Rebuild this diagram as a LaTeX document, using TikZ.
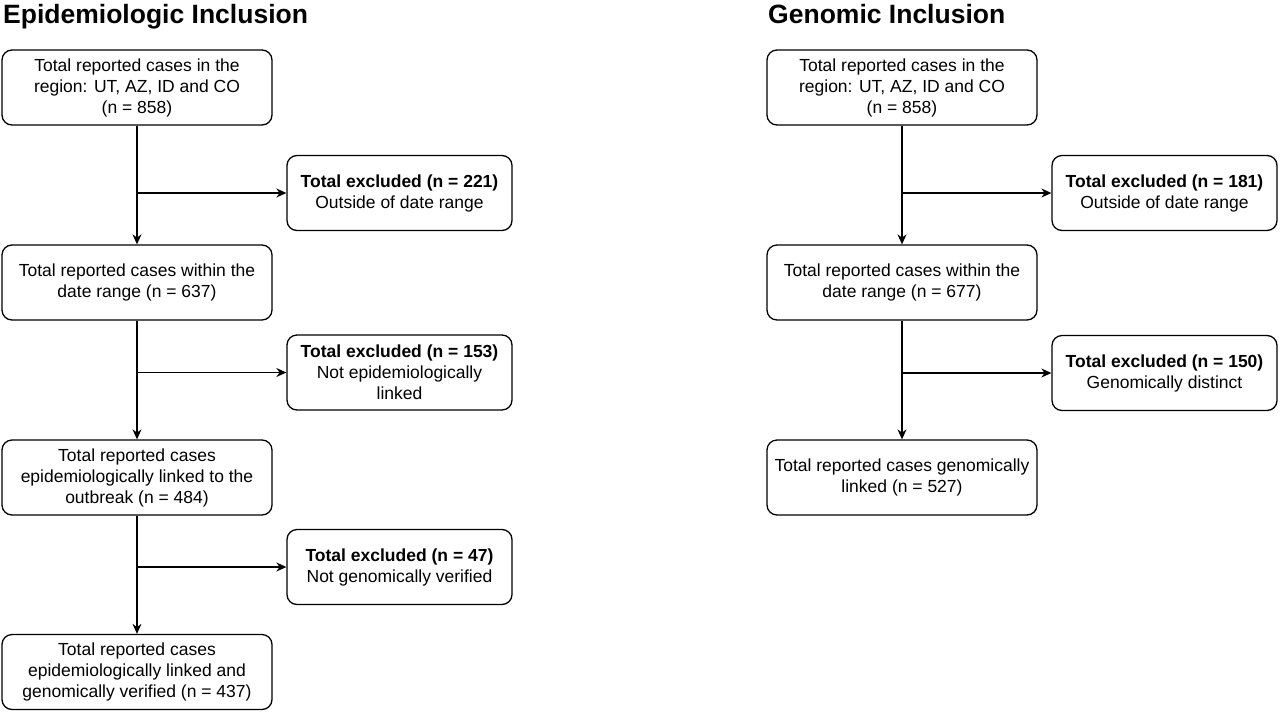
\documentclass[tikz,border=0pt]{standalone}
\usepackage{fontspec}
\setmainfont{Liberation Sans}
\usetikzlibrary{arrows.meta}
\begin{document}
\begin{tikzpicture}[x=1pt,y=-1pt,
 box/.style={draw=black, line width=1.3pt, rounded corners=10pt, minimum width=270pt, minimum height=75pt, align=center, font=\fontsize{17.5}{21}\selectfont, inner sep=0pt, fill=white},
 excl/.style={box, minimum width=225pt},
 title/.style={anchor=base west, inner sep=0pt, font=\bfseries\fontsize{26.5}{30}\selectfont},
 arr/.style={line width=1.3pt, -{Stealth[length=10pt,width=9pt]}}]
\fill[white] (0,0) rectangle (1280,713);
\useasboundingbox (0,0) rectangle (1280,713);
% left
\node[title] (t1) at (3,23) {Epidemiologic Inclusion};
\node[box] (a1) at (137,87.5) {Total reported cases in the\\region: UT, AZ, ID and CO\\(n = 858)};
\node[excl] (ae1) at (399.5,193) {\textbf{Total excluded (n = 221)}\\Outside of date range};
\node[box] (a2) at (137,282.5) {Total reported cases within the\\date range (n = 637)};
\node[excl] (ae2) at (399.5,372.5) {\textbf{Total excluded (n = 153)}\\Not epidemiologically\\linked};
\node[box] (a3) at (137,477.5) {Total reported cases\\epidemiologically linked to the\\outbreak (n = 484)};
\node[excl] (ae3) at (399.5,567) {\textbf{Total excluded (n = 47)}\\Not genomically verified};
\node[box] (a4) at (137,672) {Total reported cases\\epidemiologically linked and\\genomically verified (n = 437)};
\draw[arr] (a1.south) -- (a2.north);
\draw[arr] (a1.south |- ae1.west) -- (ae1.west);
\draw[arr] (a2.south) -- (a3.north);
\draw[arr] (a2.south |- ae2.west) -- (ae2.west);
\draw[arr] (a3.south) -- (a4.north);
\draw[arr] (a3.south |- ae3.west) -- (ae3.west);
% right
\node[title] (t2) at (768,23) {Genomic Inclusion};
\node[box] (b1) at (902,87.5) {Total reported cases in the\\region: UT, AZ, ID and CO\\(n = 858)};
\node[excl] (be1) at (1164.5,193) {\textbf{Total excluded (n = 181)}\\Outside of date range};
\node[box] (b2) at (902,282.5) {Total reported cases within the\\date range (n = 677)};
\node[excl] (be2) at (1164.5,373) {\textbf{Total excluded (n = 150)}\\Genomically distinct};
\node[box] (b3) at (902,477.5) {Total reported cases genomically\\linked (n = 527)};
\draw[arr] (b1.south) -- (b2.north);
\draw[arr] (b1.south |- be1.west) -- (be1.west);
\draw[arr] (b2.south) -- (b3.north);
\draw[arr] (b2.south |- be2.west) -- (be2.west);
\end{tikzpicture}
\end{document}
